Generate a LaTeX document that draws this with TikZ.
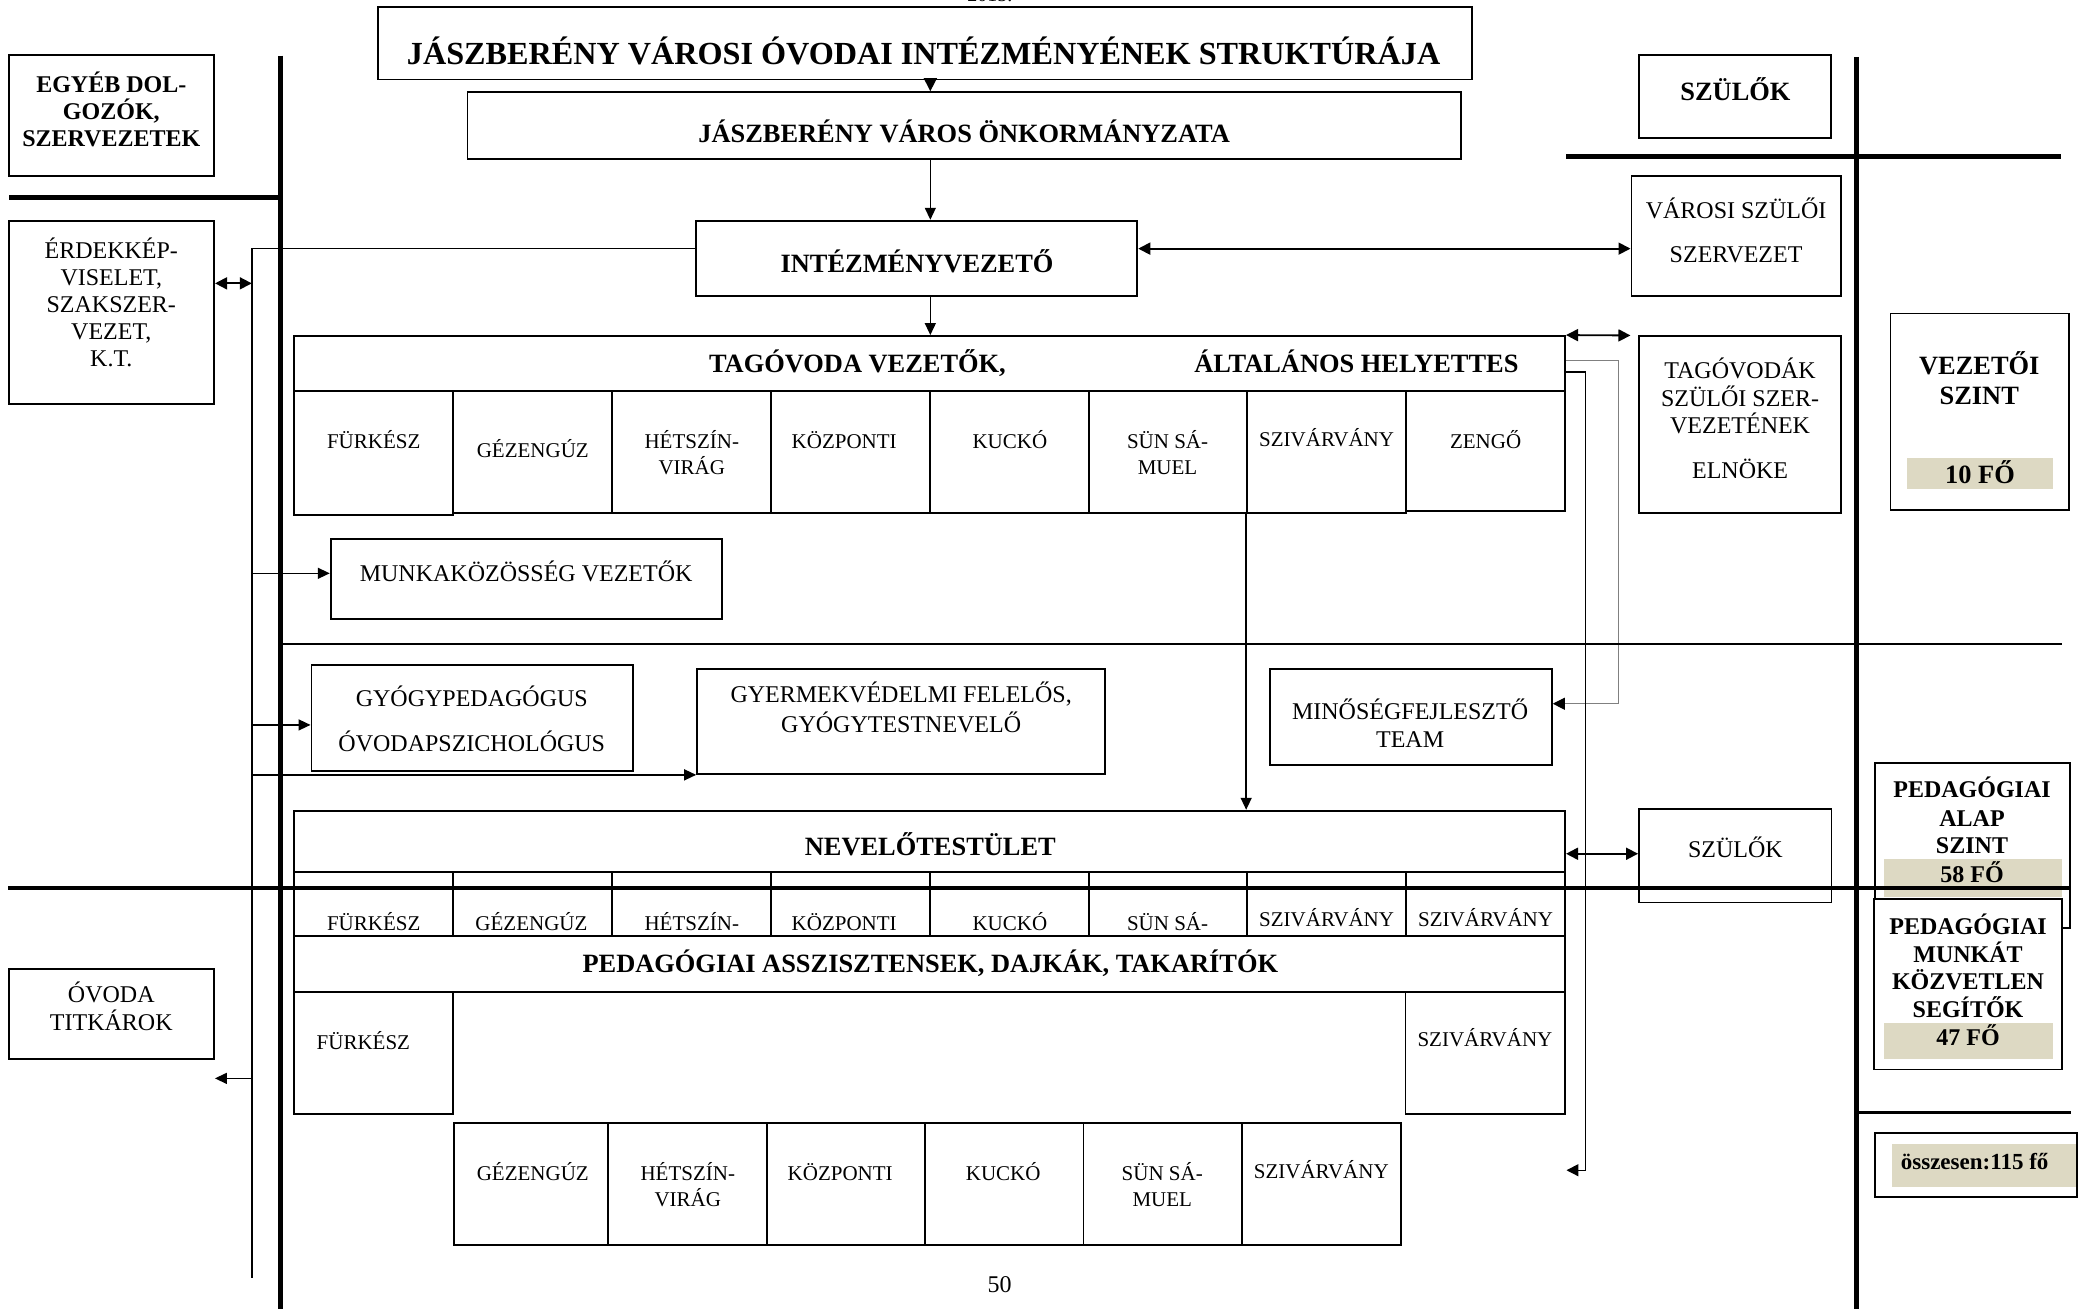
\documentclass[tikz,border=0pt]{standalone}
\usepackage{fontspec}
\setmainfont{Liberation Serif}
\usetikzlibrary{arrows.meta,fit}
\definecolor{tanfill}{RGB}{221,217,195}
\begin{document}
\begin{tikzpicture}[x=0.66265pt,y=-0.66265pt,
  bx/.style={draw, line width=0.9pt, inner sep=0pt, fill=white},
  tanbox/.style={fill=tanfill, draw=none, inner sep=0pt},
  lr/.style={anchor=base, inner sep=0pt, font=\fontsize{12}{13.5}\selectfont},
  lc/.style={anchor=base, inner sep=0pt, font=\fontsize{10.5}{12}\selectfont},
  lb/.style={anchor=base, inner sep=0pt, font=\bfseries\fontsize{13.2}{15}\selectfont},
  lbs/.style={anchor=base, inner sep=0pt, font=\bfseries\fontsize{12}{14}\selectfont},
  arr/.style={line width=0.7pt, -{Triangle[length=6pt,width=5.5pt]}},
  darr/.style={line width=0.9pt, {Triangle[length=6pt,width=6pt]}-{Triangle[length=6pt,width=6pt]}},
  conn/.style={line width=0.7pt},
  gconn/.style={line width=0.5pt, draw=gray},
  sepA/.style={line width=2.5pt},
  sepB/.style={line width=1.8pt},
  sepC/.style={line width=1.4pt}
]
\useasboundingbox (0,0) rectangle (1568,988);

% ---------- boxes ----------
\node[bx, fit={(7,41.6)(161.6,133)}] (egyeb) {};
\node[bx, fit={(7,166.8)(161.6,305)}] (erdek) {};
\node[bx, fit={(6.5,731)(161.5,799.3)}] (titk) {};
\node[bx, fit={(285.2,5)(1111,60)}] (title) {};
\node[bx, fit={(352.8,69.5)(1102.4,120.2)}] (onk) {};
\node[bx, fit={(525.4,166.5)(858.2,223.1)}] (intez) {};
\node[bx, fit={(1236.5,41.6)(1381.6,104)}] (szul1) {};
\node[bx, fit={(1231,133)(1389.2,223.4)}] (varosi) {};
\node[bx, fit={(222,253.5)(1181,295)}] (taghead) {};
\foreach \i/\a/\b/\c in {1/222/342/388.5, 2/342/462/387.3, 3/462/582/387, 4/582/702/387, 5/702/822/387, 6/822/941/387, 7/941/1061/387.3, 8/1061/1181/385.6}
  \node[bx, fit={(\a,295)(\b,\c)}] (t\i) {};
\node[bx, fit={(1237,253.8)(1389,387)}] (tagszul) {};
\node[bx, fit={(1426.5,236.5)(1561,385)}] (vezetoi) {};
\node[tanbox, fit={(1439,345.6)(1549,369.3)}] (f10) {};
\node[bx, fit={(249.5,406.7)(545,467)}] (munk) {};
\node[bx, fit={(235,501.8)(477.5,581.5)}] (gyogy) {};
\node[bx, fit={(526,505)(834,584)}] (gyerm) {};
\node[bx, fit={(958,505)(1171,577)}] (minos) {};
\node[bx, fit={(222,611.7)(1181,658.2)}] (nev) {};
\node[bx, fit={(1236.7,610.4)(1382,681)}] (szul2) {};
\node[bx, fit={(1414.5,576)(1562,700)}] (alap) {};
\node[tanbox, fit={(1421.4,648.5)(1555.6,677)}] (f58) {};
\node[bx, fit={(1414,678.6)(1556,807)}] (munkat) {};
\node[tanbox, fit={(1421.6,771.7)(1549.3,799)}] (f47) {};
\node[bx, fit={(1415,855)(1567,903)}] (ossz) {};
\node[tanbox, fit={(1427.6,863)(1566.5,896)}] (fossz) {};
\foreach \i/\a/\b in {1/222/342, 2/342/462, 3/462/582, 4/582/702, 5/702/822, 6/822/941, 7/941/1061, 8/1061/1181}
  \node[bx, fit={(\a,658.2)(\b,712)}] (n\i) {};
\node[bx, fit={(222,748.5)(342,840.6)}] (lf) {};
\node[bx, fit={(1060.5,748.5)(1181,840.8)}] (ls) {};
\foreach \i/\a/\b in {1/342.5/459, 2/459/579, 3/579/697.7, 4/697.7/817.5, 5/817.5/937, 6/937/1057}
  \node[bx, fit={(\a,847.6)(\b,939.4)}] (b\i) {};

% ---------- texts ----------
\node[anchor=base, inner sep=0pt, font=\fontsize{10}{12}\selectfont] (yr) at (747,1.2) {2015.};
\node[anchor=base, inner sep=0pt, font=\bfseries\fontsize{16.1}{18}\selectfont] (ttlt) at (697,48.5) {JÁSZBERÉNY VÁROSI ÓVODAI INTÉZMÉNYÉNEK STRUKTÚRÁJA};
\node[lb] (onkt) at (727.5,107.5) {JÁSZBERÉNY VÁROS ÖNKORMÁNYZATA};
\node[lb] (intt) at (692,205.3) {INTÉZMÉNYVEZETŐ};
\node[lb] (tagt1) at (647,280.7) {TAGÓVODA VEZETŐK,};
\node[lb] (tagt2) at (1023.5,280.7) {ÁLTALÁNOS HELYETTES};

\node[lbs] (egy1) at (84,69.9) {EGYÉB DOL-};
\node[lbs] (egy2) at (84,90) {GOZÓK,};
\node[lbs] (egy3) at (84,110.2) {SZERVEZETEK};

\node[lr] (erd1) at (84,195.2) {ÉRDEKKÉP-};
\node[lr] (erd2) at (84,215.6) {VISELET,};
\node[lr] (erd3) at (84,236) {SZAKSZER-};
\node[lr] (erd4) at (84,256.4) {VEZET,};
\node[lr] (erd5) at (84,276.8) {K.T.};

\node[lr] (tit1) at (84,756.5) {ÓVODA};
\node[lr] (tit2) at (84,777.5) {TITKÁROK};

\node[lb] (szu1t) at (1309.5,75.5) {SZÜLŐK};
\node[lr] (var1) at (1310,165) {VÁROSI SZÜLŐI};
\node[lr] (var2) at (1310,198.3) {SZERVEZET};

\node[lr] (tgs1) at (1313,285.3) {TAGÓVODÁK};
\node[lr] (tgs2) at (1313,306.6) {SZÜLŐI SZER-};
\node[lr] (tgs3) at (1313,327.4) {VEZETÉNEK};
\node[lr] (tgs4) at (1313,360.7) {ELNÖKE};

\node[lb] (vez1) at (1493.5,282.6) {VEZETŐI};
\node[lb] (vez2) at (1493.5,305.4) {SZINT};
\node[lb] (vez3) at (1494,365.2) {10 FŐ};

% top row cells
\node[lc] (tt1) at (282,338.6) {FÜRKÉSZ};
\node[lc] (tt2) at (402,345.3) {GÉZENGÚZ};
\node[lc] (tt3a) at (522,338.6) {HÉTSZÍN-};
\node[lc] (tt3b) at (522,357.9) {VIRÁG};
\node[lc] (tt4) at (637,338.6) {KÖZPONTI};
\node[lc] (tt5) at (762,338.6) {KUCKÓ};
\node[lc] (tt6a) at (881,338.6) {SÜN SÁ-};
\node[lc] (tt6b) at (881,357.9) {MUEL};
\node[lc] (tt7) at (1001,336.8) {SZIVÁRVÁNY};
\node[lc] (tt8) at (1121,338.6) {ZENGŐ};

\node[lr] (munkt) at (397,438.6) {MUNKAKÖZÖSSÉG VEZETŐK};
\node[lr] (gy1) at (356,533.4) {GYÓGYPEDAGÓGUS};
\node[lr] (gy2) at (356,566.9) {ÓVODAPSZICHOLÓGUS};
\node[lr] (ge1) at (680,530.4) {GYERMEKVÉDELMI FELELŐS,};
\node[lr] (ge2) at (680,552.5) {GYÓGYTESTNEVELŐ};
\node[lr] (mi1) at (1064,543) {MINŐSÉGFEJLESZTŐ};
\node[lr] (mi2) at (1064,564.4) {TEAM};

\node[lb] (nevt) at (702,645.5) {NEVELŐTESTÜLET};
\node[lr] (szu2t) at (1309.5,647) {SZÜLŐK};

\node[lbs] (al1) at (1488,601.6) {PEDAGÓGIAI};
\node[lbs] (al2) at (1488,623.8) {ALAP};
\node[lbs] (al3) at (1488,644) {SZINT};
\node[lbs] (al4) at (1488,665.6) {58 FŐ};

\node[lbs] (mu1) at (1485,704.8) {PEDAGÓGIAI};
\node[lbs] (mu2) at (1485,725.9) {MUNKÁT};
\node[lbs] (mu3) at (1485,746.8) {KÖZVETLEN};
\node[lbs] (mu4) at (1485,768.1) {SEGÍTŐK};
\node[lbs] (mu5) at (1485,789.1) {47 FŐ};

\node[anchor=base, inner sep=0pt, font=\bfseries\fontsize{11.5}{13}\selectfont] (osszt) at (1490,882.4) {összesen:115 fő};

% row under NEVELŐTESTÜLET
\node[lc] (nt1) at (282,702) {FÜRKÉSZ};
\node[lc] (nt2) at (401,702) {GÉZENGÚZ};
\node[lc] (nt3) at (522,702) {HÉTSZÍN-};
\node[lc] (nt4) at (637,702) {KÖZPONTI};
\node[lc] (nt5) at (762,702) {KUCKÓ};
\node[lc] (nt6) at (881,702) {SÜN SÁ-};
\node[lc] (nt7) at (1001,699.3) {SZIVÁRVÁNY};
\node[lc] (nt8) at (1121,699.3) {SZIVÁRVÁNY};

\node[bx, fit={(222,706)(1181,748.5)}] (ped) {};
\node[lb] (pedt) at (702,733.6) {PEDAGÓGIAI ASSZISZTENSEK, DAJKÁK, TAKARÍTÓK};

\node[lc] (lft) at (274.2,791.8) {FÜRKÉSZ};
\node[lc] (lst) at (1120.5,789.3) {SZIVÁRVÁNY};

\node[lc] (bt1) at (402,890.6) {GÉZENGÚZ};
\node[lc] (bt2a) at (519,890.6) {HÉTSZÍN-};
\node[lc] (bt2b) at (519,910.3) {VIRÁG};
\node[lc] (bt3) at (634,890.6) {KÖZPONTI};
\node[lc] (bt4) at (757,890.6) {KUCKÓ};
\node[lc] (bt5a) at (877,890.6) {SÜN SÁ-};
\node[lc] (bt5b) at (877,910.3) {MUEL};
\node[lc] (bt6) at (997,889.3) {SZIVÁRVÁNY};

\node[lr] (pg) at (754.3,975.6) {50};

% ---------- helper coordinates ----------
\coordinate (ax) at (702,0);
\coordinate (vt) at (190,187.4);
\coordinate (vb) at (190,964.6);
\coordinate (yV) at (0,187.6);
\coordinate (yE) at (0,213.8);
\coordinate (yM) at (0,432.6);
\coordinate (yG) at (0,547);
\coordinate (yT) at (0,813.7);
\coordinate (yN) at (0,644.2);
\coordinate (g1) at (1221,272);
\coordinate (g2) at (1221,531);
\coordinate (k1) at (1196.5,280.7);
\coordinate (k2) at (1196.5,883);
\coordinate (k3) at (1182,883);

% ---------- connectors ----------
\draw[line width=0.7pt, -{Triangle[length=6.5pt,width=6.5pt]}] (ax |- title.south) -- (ax |- onk.north);
\draw[arr] (ax |- onk.south) -- (ax |- intez.north);
\draw[arr] (ax |- intez.south) -- (ax |- taghead.north);
\draw[darr] (intez.east |- yV) -- (varosi.west |- yV);
\draw[darr] (taghead.north east) -- ([xshift=-4pt]tagszul.north west);
\draw[darr] (nev.east |- yN) -- (szul2.west |- yN);

\draw[conn] (intez.west |- vt) -- (vt) -- (vb);
\draw[darr] (erdek.east |- yE) -- (vt |- yE);
\draw[arr] (vt |- yM) -- (munk.west |- yM);
\draw[arr] (vt |- yG) -- (gyogy.west |- yG);
\draw[arr] (vt |- gyerm.south west) -- (gyerm.south west);
\draw[arr] (vt |- yT) -- (titk.east |- yT);

\draw[gconn, -{Triangle[length=6pt,width=6pt,color=black]}] (taghead.east |- g1) -- (g1) -- (g2) -- (minos.east |- g2);
\draw[conn, -{Triangle[length=6pt,width=6pt]}] (taghead.east |- k1) -- (k1) -- (k2) -- (k3);
\draw[arr] (t7.south west) -- (t7.south west |- nev.north);

% ---------- separator lines ----------
\draw[sepA] (211.7,42) -- (211.7,988);
\draw[sepA] (1401,43) -- (1401,988);
\draw[line width=2.7pt] (7,149) -- (211.7,149);
\draw[line width=2.7pt] (1181.8,118) -- (1555.4,118);
\draw[sepC] (211.7,486) -- (1555.6,486);
\draw[sepB] (6.3,670) -- (1562,670);
\draw[sepC] (1400,839.6) -- (1562.7,839.6);
\end{tikzpicture}
\end{document}
